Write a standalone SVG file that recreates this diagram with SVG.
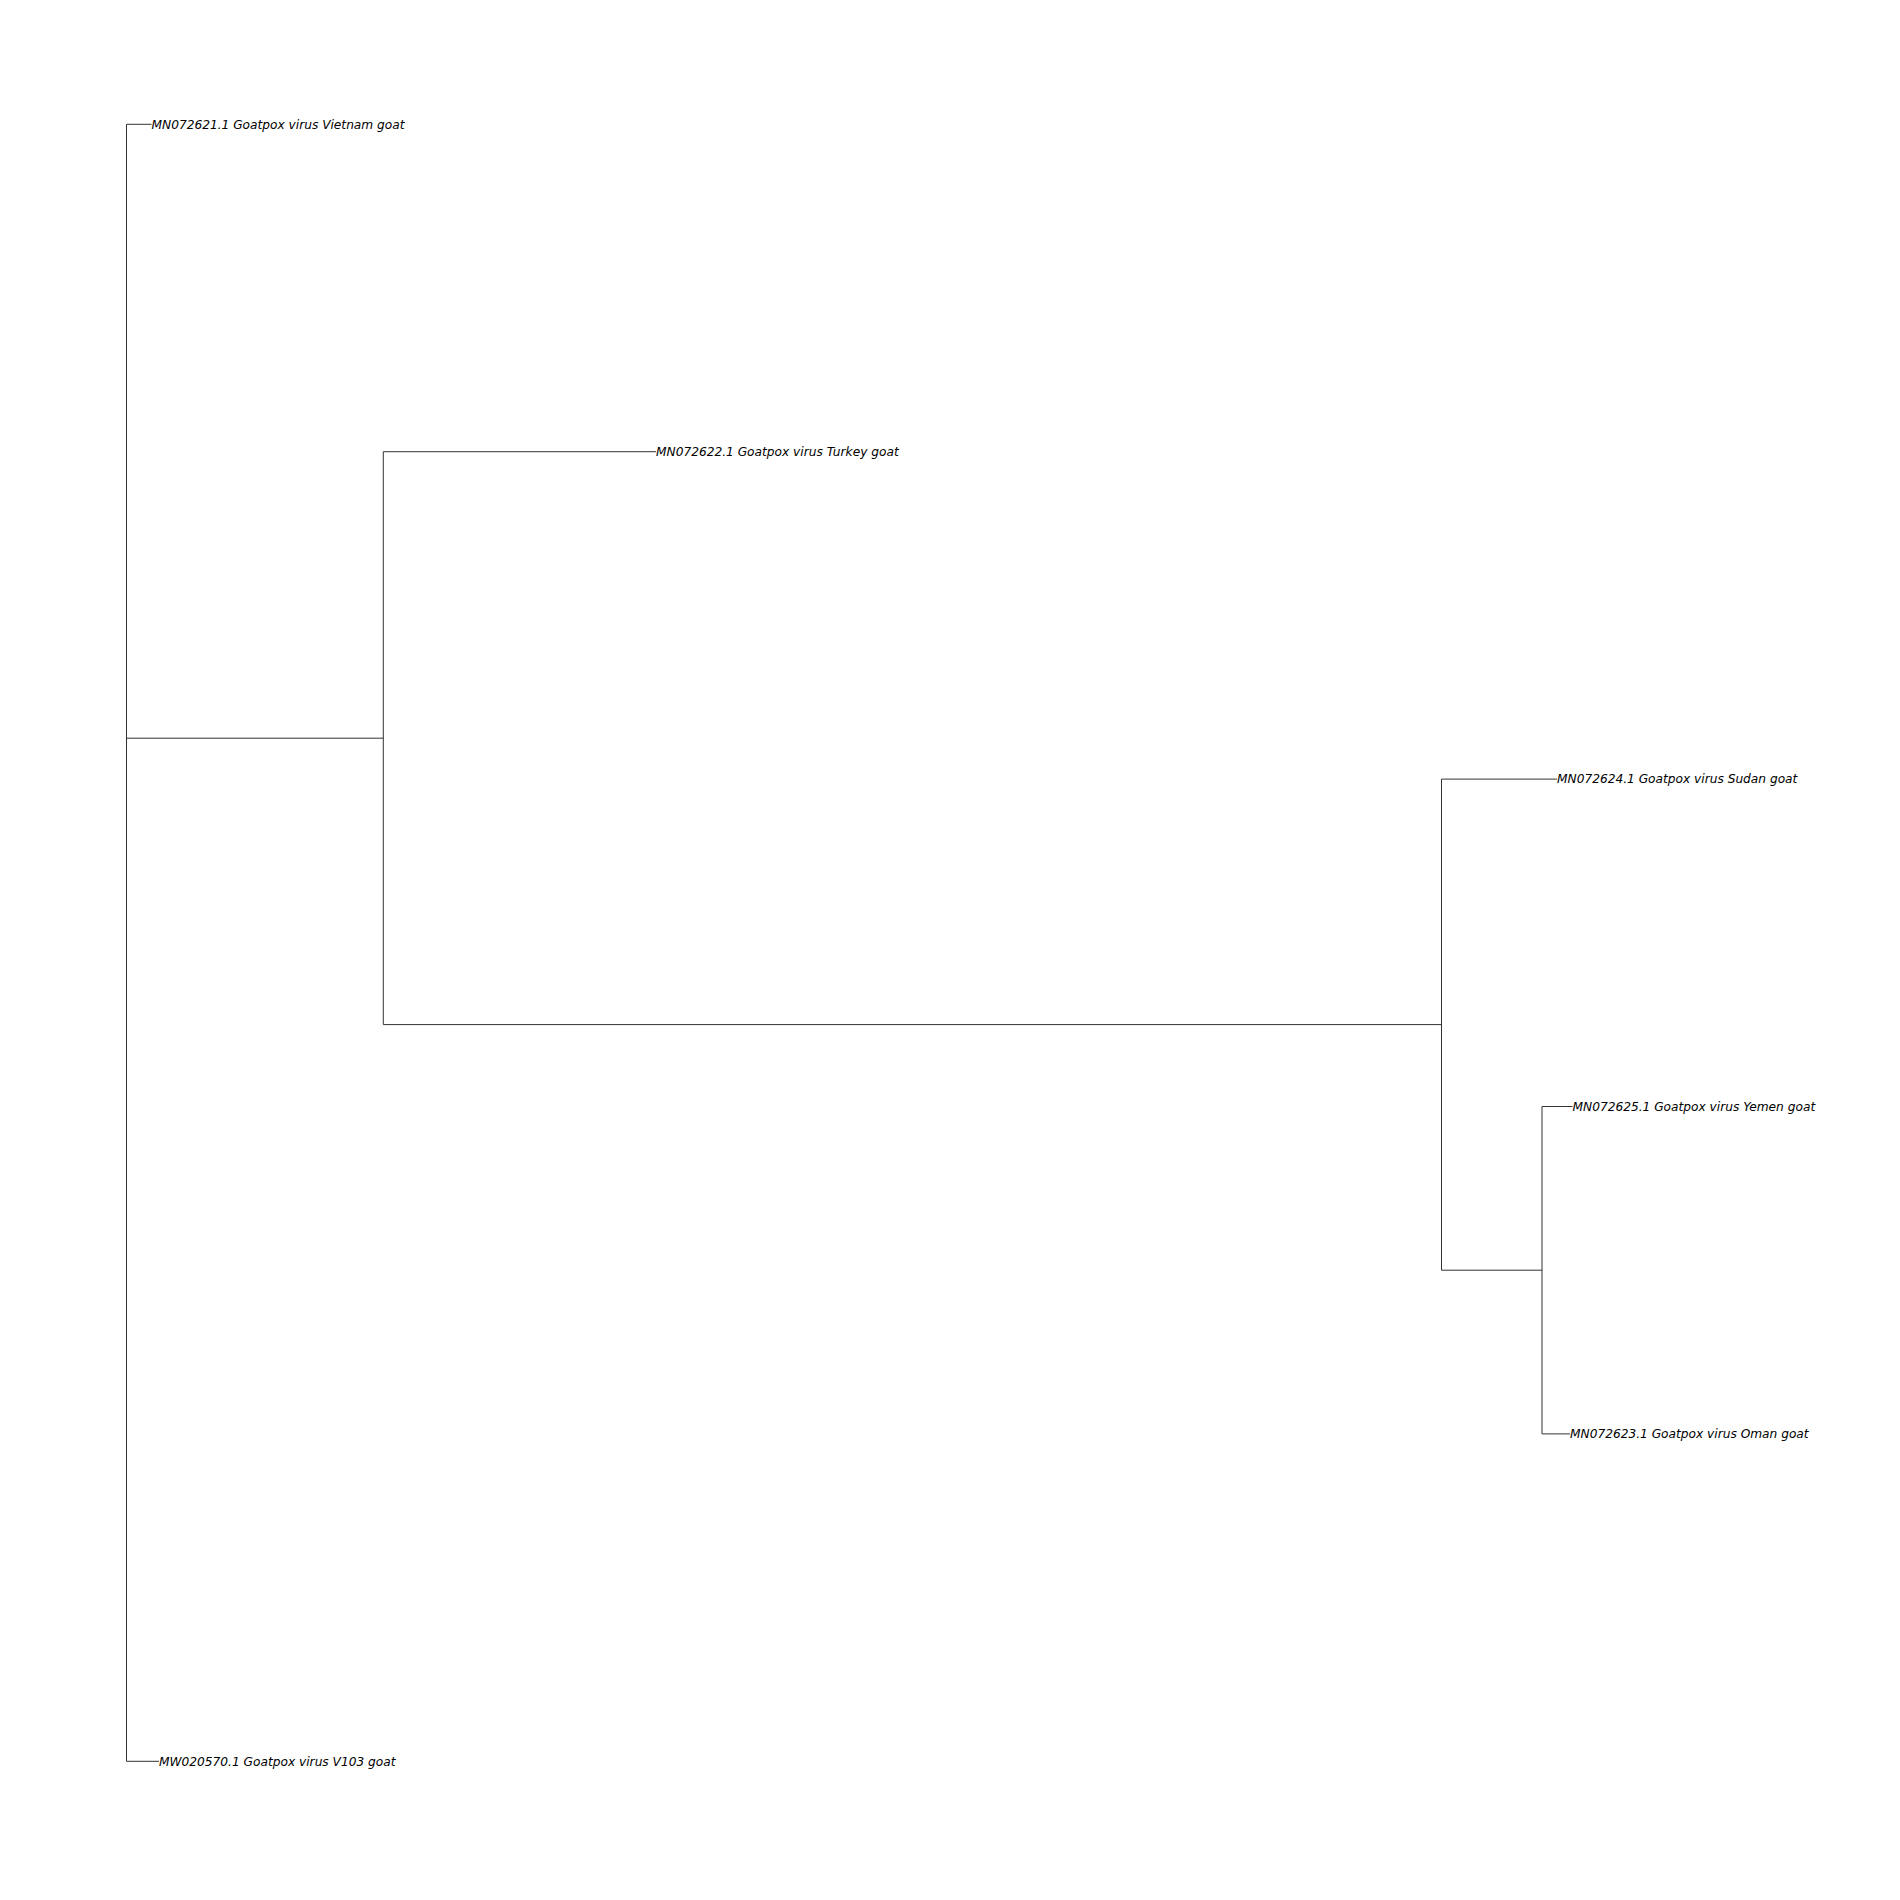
<svg xmlns="http://www.w3.org/2000/svg" width="1900" height="1900" viewBox="0 0 1900 1900">
<style>
.br{fill:none;stroke:#333;stroke-width:1}
.lb{font-family:"DejaVu Sans","Liberation Sans",sans-serif;font-style:italic;font-size:12.2px;fill:#000}
</style>
<rect width="1900" height="1900" fill="#fff"/>
<g id="connectors">
<path class="br" d="M126.5,124.3V1761.3"/>
<path class="br" d="M126.5,124.3H151.5"/>
<path class="br" d="M126.5,1761.3H159"/>
<path class="br" d="M126.5,738.2H383.3"/>
<path class="br" d="M383.3,451.7V1024.6"/>
<path class="br" d="M383.3,451.7H656"/>
<path class="br" d="M383.3,1024.6H1441.5"/>
<path class="br" d="M1441.5,779.1V1270.2"/>
<path class="br" d="M1441.5,779.1H1557"/>
<path class="br" d="M1441.5,1270.2H1542"/>
<path class="br" d="M1542,1106.5V1433.9"/>
<path class="br" d="M1542,1106.5H1572.5"/>
<path class="br" d="M1542,1433.9H1570"/>
</g>
<g id="leaf-vietnam"><text class="lb" x="151.5" y="128.6">MN072621.1 Goatpox virus Vietnam goat</text></g>
<g id="leaf-turkey"><text class="lb" x="656" y="456">MN072622.1 Goatpox virus Turkey goat</text></g>
<g id="leaf-sudan"><text class="lb" x="1557" y="783.4">MN072624.1 Goatpox virus Sudan goat</text></g>
<g id="leaf-yemen"><text class="lb" x="1572.5" y="1110.8">MN072625.1 Goatpox virus Yemen goat</text></g>
<g id="leaf-oman"><text class="lb" x="1570" y="1438.2">MN072623.1 Goatpox virus Oman goat</text></g>
<g id="leaf-v103"><text class="lb" x="159" y="1765.6">MW020570.1 Goatpox virus V103 goat</text></g>
</svg>
